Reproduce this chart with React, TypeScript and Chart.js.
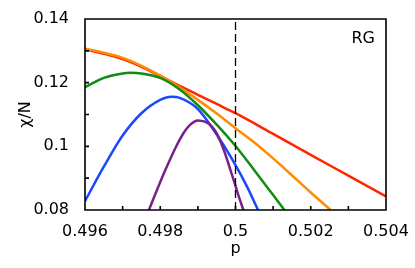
import React, { useEffect, useRef } from "react";
import { Chart, registerables } from "chart.js";

Chart.register(...registerables);

// ---- data ----
const pRed = [0.496, 0.4965, 0.497, 0.4975, 0.498, 0.4985, 0.499, 0.4995, 0.5, 0.501, 0.502, 0.503, 0.504];
const chiRed = [0.1305, 0.1291, 0.1274, 0.125, 0.1221, 0.1191, 0.1162, 0.1133, 0.1104, 0.1039, 0.0973, 0.0908, 0.0843];

const pOrange = [0.496, 0.4965, 0.497, 0.4975, 0.498, 0.4985, 0.499, 0.4995, 0.5, 0.5005, 0.501, 0.5015, 0.502, 0.50253];
const chiOrange = [0.1307, 0.1294, 0.1278, 0.1253, 0.1222, 0.1186, 0.1146, 0.1103, 0.1057, 0.1012, 0.0962, 0.0909, 0.0855, 0.08];

const pGreen = [0.496, 0.4965, 0.497, 0.4972, 0.4975, 0.498, 0.4985, 0.499, 0.4995, 0.5, 0.5005, 0.501, 0.5013];
const chiGreen = [0.1186, 0.1215, 0.1229, 0.1231, 0.1229, 0.1215, 0.118, 0.1129, 0.1068, 0.1001, 0.0925, 0.0847, 0.08];

const pBlue = [0.496, 0.4965, 0.497, 0.4975, 0.498, 0.4983, 0.4985, 0.499, 0.4995, 0.5, 0.5003, 0.5006];
const chiBlue = [0.0828, 0.0936, 0.1034, 0.1104, 0.1146, 0.1156, 0.1153, 0.1117, 0.1037, 0.0941, 0.0875, 0.08];

const pPurple = [0.4977, 0.4978, 0.4979, 0.498, 0.4981, 0.4982, 0.4983, 0.4984, 0.4985, 0.4986, 0.4987, 0.4988, 0.4989, 0.499, 0.4991, 0.4992, 0.4993, 0.4994, 0.4995, 0.4996, 0.4997, 0.4998, 0.4999, 0.5, 0.5001, 0.50021];
const chiPurple = [0.08, 0.083, 0.0859, 0.0888, 0.0916, 0.0943, 0.0969, 0.0994, 0.1017, 0.1038, 0.1055, 0.1068, 0.1077, 0.1081, 0.108, 0.1077, 0.107, 0.1058, 0.1041, 0.1015, 0.0985, 0.095, 0.0913, 0.0876, 0.0838, 0.08];

const pCritical = [0.5, 0.5];
const chiCritical = [0.08, 0.14];

const xMin = 0.496, xMax = 0.504, xStep = 0.001;
const yMin = 0.08, yMax = 0.14, yStep = 0.01;
const xTitle = "p";
const yTitle = "χ/N";
const annotation = "RG";

const toPts = (xs: number[], ys: number[]) => xs.map((x, i) => ({ x, y: ys[i] }));

const framePlugin = {
  id: "frame",
  afterDatasetsDraw(chart: any) {
    const ctx: CanvasRenderingContext2D = chart.ctx;
    const a = chart.chartArea;
    const xs = chart.scales.x, ys = chart.scales.y;
    ctx.save();
    ctx.setLineDash([]);
    ctx.globalAlpha = 1;
    ctx.globalCompositeOperation = "source-over";
    ctx.strokeStyle = "#000000";
    ctx.lineWidth = 1.6;
    ctx.beginPath();
    ctx.rect(a.left, a.top, a.right - a.left, a.bottom - a.top);
    for (const t of xs.ticks) {
      const px = xs.getPixelForValue(t.value);
      ctx.moveTo(px, a.bottom);
      ctx.lineTo(px, a.bottom - 4);
    }
    for (const t of ys.ticks) {
      const py = ys.getPixelForValue(t.value);
      ctx.moveTo(a.left, py);
      ctx.lineTo(a.left + 4, py);
    }
    ctx.stroke();
    ctx.font = '16px "DejaVu Sans"';
    ctx.fillStyle = "#000";
    ctx.textAlign = "right";
    ctx.textBaseline = "middle";
    ctx.fillText(annotation, a.right - 11, a.top + 20);
    ctx.restore();
  },
};

export default function App() {
  const ref = useRef<HTMLCanvasElement | null>(null);
  useEffect(() => {
    document.body.style.margin = "0";
    if (!ref.current) return;
    Chart.defaults.font.family = '"DejaVu Sans"';
    Chart.defaults.font.size = 16;
    Chart.defaults.color = "#000";
    const line = (xs: number[], ys: number[], color: string, extra: any = {}) => ({
      data: toPts(xs, ys),
      borderColor: color,
      backgroundColor: color,
      borderWidth: 2.5,
      pointRadius: 0,
      showLine: true,
      cubicInterpolationMode: "monotone",
      ...extra,
    });
    const chart = new Chart(ref.current, {
      type: "scatter",
      data: {
        datasets: [
          line(pCritical, chiCritical, "#000", { borderWidth: 1.3, borderDash: [8, 4], cubicInterpolationMode: "default" }),
          line(pPurple, chiPurple, "rgb(122,30,140)"),
          line(pBlue, chiBlue, "rgb(25,72,255)"),
          line(pGreen, chiGreen, "rgb(16,140,16)"),
          line(pOrange, chiOrange, "rgb(255,140,0)"),
          line(pRed, chiRed, "rgb(255,38,0)"),
        ] as any,
      },
      options: {
        animation: false,
        responsive: false,
        layout: { padding: { top: 19, right: 29, left: 0, bottom: 0 } },
        plugins: { legend: { display: false }, tooltip: { enabled: false } },
        scales: {
          x: {
            type: "linear",
            min: xMin,
            max: xMax,
            grid: { display: false, drawTicks: false },
            border: { display: false },
            ticks: {
              stepSize: xStep,
              autoSkip: false,
              maxRotation: 0,
              padding: 12,
              callback: (v: any) => {
                const k = Math.round(Number(v) * 1000);
                return k % 2 === 0 ? String(k / 1000) : "";
              },
            },
            title: { display: true, text: xTitle, padding: { top: 0, bottom: 10 } },
            afterFit: (s: any) => {
              s.height = 58;
              s.paddingLeft = 0;
              s.paddingRight = 0;
            },
          },
          y: {
            type: "linear",
            min: yMin,
            max: yMax,
            grid: { display: false, drawTicks: false },
            border: { display: false },
            ticks: {
              stepSize: yStep,
              autoSkip: false,
              padding: 16,
              callback: (v: any) => {
                const k = Math.round(Number(v) * 100);
                return k % 2 === 0 ? String(k / 100) : "";
              },
            },
            title: { display: true, text: yTitle, padding: { top: 16, bottom: 0 } },
            afterFit: (s: any) => {
              s.width = 85;
              s.paddingTop = 0;
              s.paddingBottom = 0;
            },
          },
        },
      } as any,
      plugins: [framePlugin],
    });
    return () => chart.destroy();
  }, []);
  return (
    <div style={{ width: 415, height: 268 }}>
      <canvas ref={ref} width={415} height={268} style={{ display: "block" }} />
    </div>
  );
}
